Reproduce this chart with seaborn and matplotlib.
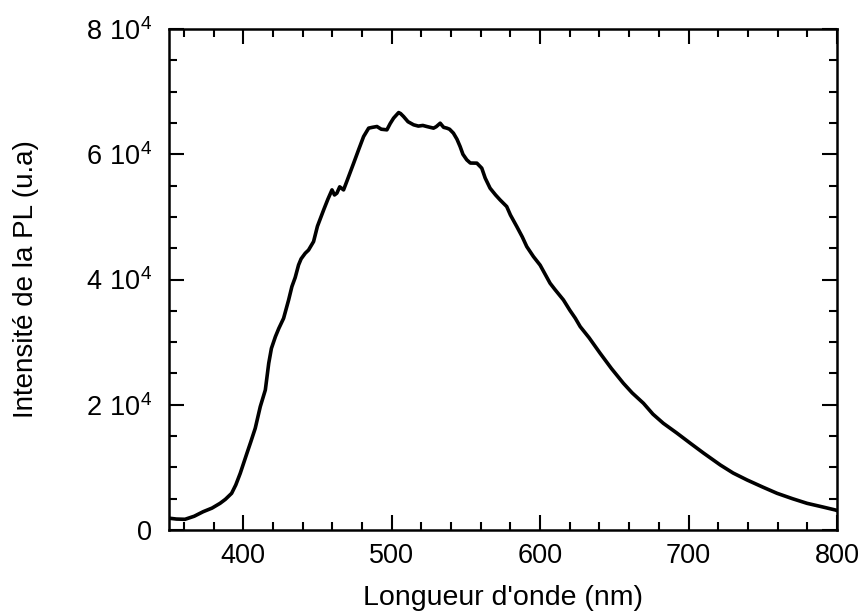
import matplotlib
matplotlib.use("Agg")
import matplotlib.pyplot as plt
import seaborn as sns
import pandas as pd
from matplotlib.ticker import MultipleLocator, FixedLocator

wavelength = [350.7, 355, 360.8, 367, 373, 379, 384.4, 388, 392.2, 395, 398, 402.5, 405,
              408.1, 411.5, 414.9, 417.2, 419, 421.7, 424, 427.2, 430.6, 432.8, 435, 437.3,
              439, 441.8, 444, 447.4, 450, 454.2, 457, 459.8, 461.5, 463.1, 465, 467.6, 470,
              474.4, 477.7, 481.1, 484.5, 487, 490.1, 493, 496.8, 499, 501.3, 504.7, 506,
              508, 511, 514.8, 518, 521, 523.7, 528.2, 530, 532.7, 535, 537.2, 539, 541.6,
              544, 546.1, 548, 550.6, 553, 557.4, 560.7, 563, 566.3, 570, 573, 577.5, 580,
              584.3, 588, 591, 595.5, 600, 606.7, 610, 615.7, 620, 623.7, 627, 633, 640.4,
              648, 656.1, 662, 669.6, 676, 683, 692, 701.2, 710, 721.4, 730, 739.4, 750,
              759.6, 770, 779.8, 790, 799, 800]
intensity = [1870, 1750, 1710, 2200, 2920, 3500, 4260, 4900, 5860, 7200, 9050, 12250, 14000,
             16240, 19700, 22360, 26630, 29000, 30880, 32200, 33800, 36740, 38870, 40300, 42330,
             43300, 44200, 44700, 46060, 48500, 51120, 52800, 54310, 53500, 53790, 54800, 54310, 55800,
             58580, 60700, 62830, 64170, 64300, 64430, 64000, 63900, 64900, 65770, 66660, 66500,
             66030, 65200, 64700, 64500, 64600, 64430, 64170, 64400, 64960, 64300, 64170, 64000, 63370,
             62400, 61240, 60000, 59110, 58600, 58580, 57780, 56200, 54580, 53500, 52720, 51650, 50300,
             48450, 46800, 45260, 43660, 42300, 39410, 38400, 36740, 35100, 33820, 32480, 30700, 28230,
             25800, 23430, 21900, 20240, 18500, 17040, 15500, 13850, 12300, 10380, 9100, 7990, 6850,
             5860, 5000, 4260, 3700, 3190, 3100]

x_ticks = [400, 500, 600, 700, 800]
y_ticks = [0, 20000, 40000, 60000, 80000]
y_tick_labels = ["0", r"$2\ 10^{4}$", r"$4\ 10^{4}$", r"$6\ 10^{4}$", r"$8\ 10^{4}$"]

sns.set_style("white")
plt.rcParams["font.family"] = ["Liberation Sans", "DejaVu Sans"]
plt.rcParams["mathtext.default"] = "regular"
plt.rcParams["text.color"] = "black"
plt.rcParams["axes.labelcolor"] = "black"
plt.rcParams["xtick.color"] = "black"
plt.rcParams["ytick.color"] = "black"

df = pd.DataFrame({"wl": wavelength, "I": intensity})

fig = plt.figure(figsize=(8.63, 6.16), dpi=100)
ax = fig.add_axes([0.1958, 0.1396, 0.7741, 0.8133])
sns.lineplot(data=df, x="wl", y="I", ax=ax, color="black", linewidth=2.6, estimator=None, sort=False)

ax.set_xlim(350, 800)
ax.set_ylim(0, 80000)
ax.xaxis.set_major_locator(FixedLocator(x_ticks))
ax.xaxis.set_minor_locator(MultipleLocator(20))
ax.yaxis.set_major_locator(FixedLocator(y_ticks))
ax.yaxis.set_minor_locator(MultipleLocator(5000))
ax.set_yticklabels(y_tick_labels)
ax.set_xticklabels([str(v) for v in x_ticks])

ax.tick_params(which="both", direction="in", top=True, right=True, bottom=True, left=True,
               colors="black", labelcolor="black", width=1.5)
ax.tick_params(which="major", length=11, labelsize=19.5)
ax.tick_params(axis="x", which="major", pad=9)
ax.tick_params(axis="y", which="major", pad=12)
ax.tick_params(which="minor", length=5.5)
for s in ax.spines.values():
    s.set_linewidth(1.8)
    s.set_color("black")
    s.set_visible(True)

ax.set_xlabel("Longueur d'onde (nm)", fontsize=20.5, labelpad=12, color="black")
ax.set_ylabel("Intensité de la PL (u.a)", fontsize=20, labelpad=34, color="black")

fig.savefig("out.png", dpi=100, facecolor="white")
